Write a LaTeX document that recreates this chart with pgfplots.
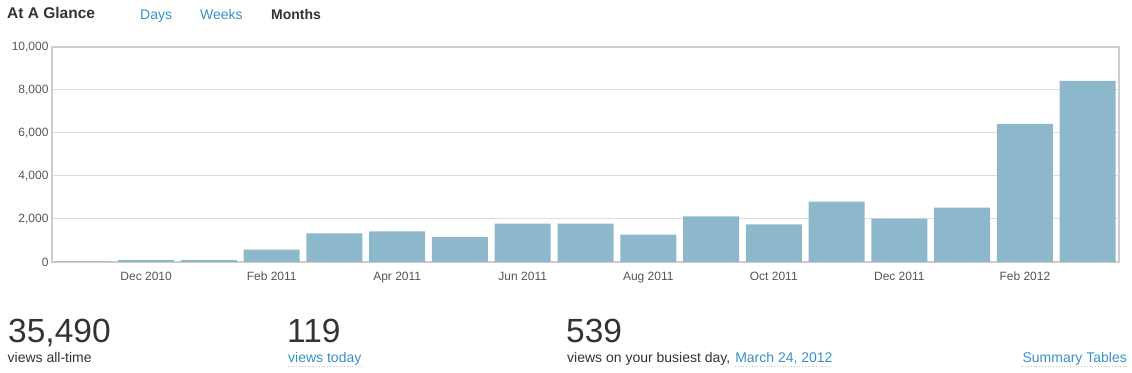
\documentclass[border=0pt]{standalone}
\usepackage{fontspec}
\setmainfont{Liberation Sans}
\usepackage{pgfplots}
\pgfplotsset{compat=1.18}
\definecolor{barc}{HTML}{8DB8CC}
\definecolor{linkc}{HTML}{3A8FC4}
\definecolor{darkt}{HTML}{333333}
\definecolor{gridc}{HTML}{DDDDDD}
\definecolor{axc}{HTML}{CDCDCD}
\definecolor{tickc}{HTML}{555555}
\definecolor{ulc}{HTML}{B8C8D4}
\begin{document}
\begin{tikzpicture}[x=1pt,y=1pt]
\path[use as bounding box] (0,0) rectangle (1132,372);
\begin{axis}[
  at={(52pt,110pt)}, anchor=south west,
  scale only axis, width=1067pt, height=215pt,
  xmin=-0.5, xmax=16.5, ymin=0, ymax=10000,
  ytick={0,2000,4000,6000,8000,10000},
  xtick={1,3,5,7,9,11,13,15},
  xticklabels={Dec 2010,Feb 2011,Apr 2011,Jun 2011,Aug 2011,Oct 2011,Dec 2011,Feb 2012},
  ymajorgrids,
  grid style={gridc, line width=1pt},
  axis line style={axc, line width=1.5pt},
  major tick length=0pt,
  tick label style={font=\fontsize{12}{14}\selectfont, text=tickc},
  xticklabel style={anchor=north, text height=9pt, text depth=2.5pt, yshift=-6pt},
  scaled y ticks=false,
  /pgf/number format/.cd, 1000 sep={,}, assume math mode=true,
  /pgfplots/.cd,
]
\addplot[ybar, bar width=56pt, fill=barc, draw=none] coordinates {
 (0,30) (1,90) (2,85) (3,580) (4,1330) (5,1420) (6,1170) (7,1780) (8,1780)
 (9,1270) (10,2120) (11,1750) (12,2810) (13,2020) (14,2530) (15,6420) (16,8430)
};
\end{axis}
% header
\node[anchor=base west, inner sep=0, text=darkt, font=\fontsize{15.5}{18}\selectfont\bfseries] at (7,353) {At A Glance};
\node[anchor=base west, inner sep=0, text=linkc, font=\fontsize{14}{16}\selectfont] at (140,352) {Days};
\node[anchor=base west, inner sep=0, text=linkc, font=\fontsize{14}{16}\selectfont] at (200,352) {Weeks};
\node[anchor=base west, inner sep=0, text=darkt, font=\fontsize{14}{16}\selectfont\bfseries] at (271,352) {Months};
% big numbers
\node[anchor=base west, inner sep=0, text=darkt, font=\fontsize{33.5}{36}\selectfont] at (8,29.3) {35,490};
\node[anchor=base west, inner sep=0, text=darkt, font=\fontsize{33.5}{36}\selectfont] at (287,29.3) {119};
\node[anchor=base west, inner sep=0, text=darkt, font=\fontsize{33.5}{36}\selectfont] at (566,29.3) {539};
% captions
\node[anchor=base west, inner sep=0, text=darkt, font=\fontsize{14}{16}\selectfont] at (7.5,9.5) {views all-time};
\node[anchor=base west, inner sep=0, text=linkc, font=\fontsize{14}{16}\selectfont] (vt) at (288,9.5) {views today};
\draw[ulc, dotted, line width=0.8pt] ([yshift=-3.5pt]vt.base west) -- ([yshift=-3.5pt]vt.base east);
\node[anchor=base west, inner sep=0, text=darkt, font=\fontsize{14}{16}\selectfont] (busy) at (567,9.5) {views on your busiest day,};
\node[anchor=base west, inner sep=0, text=linkc, font=\fontsize{14}{16}\selectfont] (md) at ([xshift=4.5pt]busy.base east) {March 24, 2012};
\draw[ulc, dotted, line width=0.8pt] ([yshift=-3.5pt]md.base west) -- ([yshift=-3.5pt]md.base east);
\node[anchor=base east, inner sep=0, text=linkc, font=\fontsize{14}{16}\selectfont] (st) at (1127,9.5) {Summary Tables};
\draw[ulc, dotted, line width=0.8pt] ([yshift=-3.5pt]st.base west) -- ([yshift=-3.5pt]st.base east);
\end{tikzpicture}
\end{document}
